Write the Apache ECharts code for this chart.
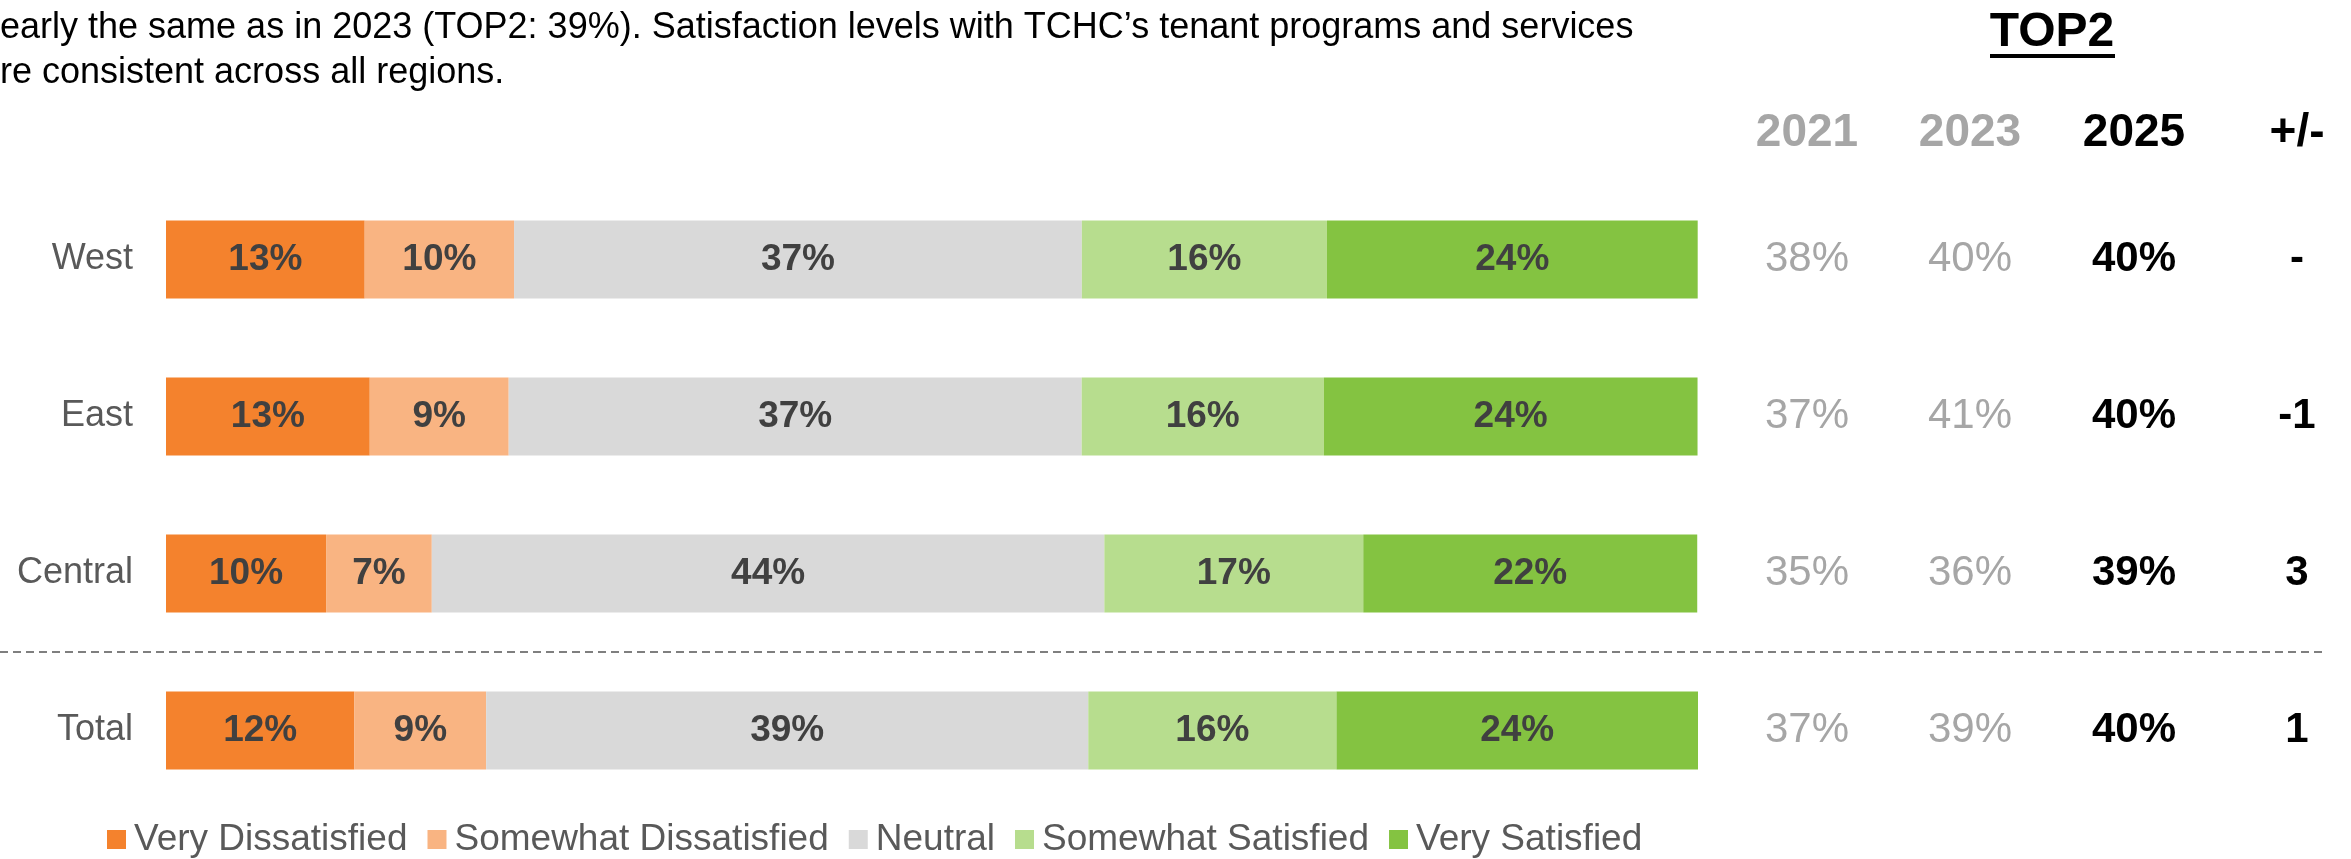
<!DOCTYPE html>
<html lang="en">
<head>
    <meta charset="UTF-8">
    <title>Satisfaction by region</title>
    <script src="https://cdn.jsdelivr.net/npm/echarts@6.0.0/dist/echarts.min.js"></script>
    <style>
        html, body {
            margin: 0;
            padding: 0;
            background: #fff;
        }
        #chart {
            width: 2351px;
            height: 859px;
        }
    </style>
</head>
<body>
    <div id="chart"></div>

    <script>
        // data
        var regions = ['West', 'East', 'Central', 'Total'];
        var seriesNames = ['Very Dissatisfied', 'Somewhat Dissatisfied', 'Neutral', 'Somewhat Satisfied', 'Very Satisfied'];
        var veryDissatisfied = [12.97, 13.3, 10.45, 12.3];
        var somewhatDissatisfied = [9.75, 9.07, 6.9, 8.6];
        var neutral = [37.06, 37.4, 43.9, 39.3];
        var somewhatSatisfied = [16.0, 15.8, 16.9, 16.2];
        var verySatisfied = [24.2, 24.4, 21.8, 23.6];

        // TOP2 table
        var tableHeads = ['2021', '2023', '2025', '+/-'];
        var top2021 = [38, 37, 35, 37];
        var top2023 = [40, 41, 36, 39];
        var top2025 = [40, 40, 39, 40];
        var top2Change = ['-', '-1', '3', '1'];

        var FONT = '"Liberation Sans", Arial, sans-serif';
        var colors = ['#F4822D', '#F9B482', '#D9D9D9', '#B7DD8E', '#84C341'];
        var values = [veryDissatisfied, somewhatDissatisfied, neutral, somewhatSatisfied, verySatisfied];

        var chart = echarts.init(document.getElementById('chart'));

        var series = seriesNames.map(function (name, i) {
            return {
                name: name,
                type: 'bar',
                stack: 'all',
                barWidth: 78,
                yAxisIndex: 0,
                itemStyle: { color: colors[i] },
                label: {
                    show: true,
                    position: 'inside',
                    fontFamily: FONT,
                    fontSize: 37,
                    fontWeight: 'bold',
                    color: '#404040',
                    formatter: function (p) { return Math.round(p.value) + '%'; }
                },
                emphasis: { disabled: true },
                data: values[i]
            };
        });

        // right side table columns drawn as extra category axes
        function tableAxis(arr, margin, color, bold, suffix) {
            return {
                type: 'category',
                inverse: true,
                position: 'right',
                offset: 0,
                data: regions,
                axisLine: { show: false },
                axisTick: { show: false },
                splitLine: { show: false },
                axisLabel: {
                    margin: margin,
                    align: 'center',
                    color: color,
                    fontFamily: FONT,
                    fontSize: 42,
                    fontWeight: bold ? 'bold' : 'normal',
                    formatter: function (v, idx) { return arr[idx] + suffix; }
                }
            };
        }

        var colX = [1807, 1970, 2134, 2297];
        var headColors = ['#A6A6A6', '#A6A6A6', '#000', '#000'];

        var graphics = [
            {
                type: 'text', x: 0, y: 28,
                style: {
                    text: 'early the same as in 2023 (TOP2: 39%). Satisfaction levels with TCHC\u2019s tenant programs and services',
                    fontFamily: FONT, fontSize: 36, fill: '#000', align: 'left', verticalAlign: 'middle'
                }
            },
            {
                type: 'text', x: 0, y: 73,
                style: {
                    text: 're consistent across all regions.',
                    fontFamily: FONT, fontSize: 36, fill: '#000', align: 'left', verticalAlign: 'middle'
                }
            },
            {
                type: 'text', x: 2052, y: 33,
                style: {
                    text: 'TOP2', fontFamily: FONT, fontSize: 48, fontWeight: 'bold',
                    fill: '#000', align: 'center', verticalAlign: 'middle'
                }
            },
            {
                type: 'rect',
                shape: { x: 1990, y: 54, width: 125, height: 4 },
                style: { fill: '#000' }
            }
        ];
        tableHeads.forEach(function (t, i) {
            graphics.push({
                type: 'text', x: colX[i], y: 133,
                style: {
                    text: t, fontFamily: FONT, fontSize: 46, fontWeight: 'bold',
                    fill: headColors[i], align: 'center', verticalAlign: 'middle'
                }
            });
        });

        chart.setOption({
            animation: false,
            grid: {
                left: 166,
                right: 653,
                top: 181,
                height: 628,
                outerBoundsMode: 'none'
            },
            legend: {
                left: 102,
                top: 816,
                icon: 'rect',
                itemWidth: 19,
                itemHeight: 19,
                itemGap: 20,
                selectedMode: false,
                textStyle: { fontFamily: FONT, fontSize: 37, color: '#595959', padding: [0, 0, 0, 3] },
                data: seriesNames
            },
            xAxis: {
                type: 'value',
                min: 0,
                max: 100,
                show: false
            },
            yAxis: [
                {
                    type: 'category',
                    inverse: true,
                    data: regions,
                    axisLine: { show: false },
                    axisTick: { show: false },
                    axisLabel: {
                        margin: 33,
                        color: '#595959',
                        fontFamily: FONT,
                        fontSize: 36
                    }
                },
                tableAxis(top2021, colX[0] - 1698, '#A6A6A6', false, '%'),
                tableAxis(top2023, colX[1] - 1698, '#A6A6A6', false, '%'),
                tableAxis(top2025, colX[2] - 1698, '#000', true, '%'),
                tableAxis(top2Change, colX[3] - 1698, '#000', true, '')
            ],
            graphic: graphics,
            series: series
        });

        // dashed divider between Central and Total
        var yCentral = chart.convertToPixel({ yAxisIndex: 0 }, 'Central');
        var yTotal = chart.convertToPixel({ yAxisIndex: 0 }, 'Total');
        var yDiv = Math.round((yCentral + yTotal) / 2);
        graphics.push({
            type: 'line',
            shape: { x1: 0, y1: yDiv, x2: 2326, y2: yDiv },
            style: { stroke: '#7F7F7F', lineWidth: 2, lineDash: [8, 5] }
        });
        chart.setOption({ graphic: graphics });
    </script>
</body>
</html>
